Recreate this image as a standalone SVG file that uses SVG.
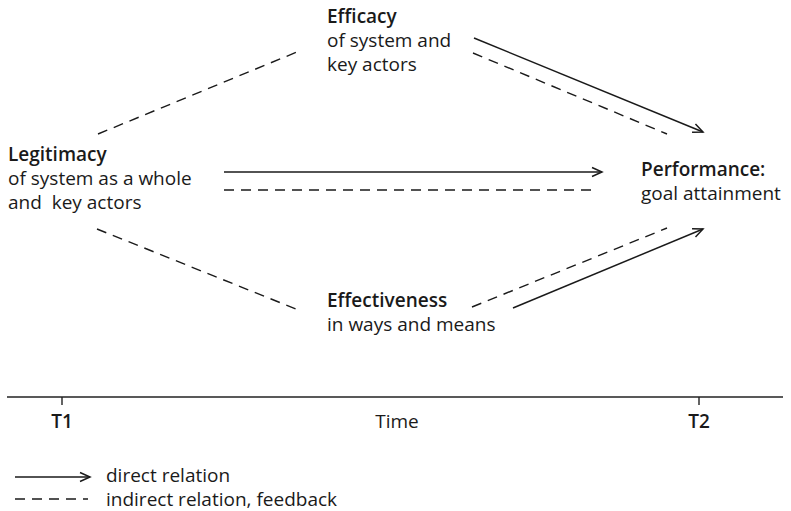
<svg xmlns="http://www.w3.org/2000/svg" width="791" height="511" viewBox="0 0 791 511">
<style>
text{font-family:"Open Sans","DejaVu Sans",sans-serif;font-size:19px;fill:#1a1a1a}
.b{font-weight:600}
.s{stroke:#1a1a1a;stroke-width:1.5;fill:none}
.d{stroke:#1a1a1a;stroke-width:1.4;fill:none;stroke-dasharray:10 7}
.ax{stroke:#222;stroke-width:1.4;fill:none}
</style>
<defs>
<marker id="arr" markerUnits="userSpaceOnUse" markerWidth="14" markerHeight="14" viewBox="-12 -7 14 14" refX="0" refY="0" orient="auto">
<path d="M-10,-4.5 L0,0 L-10,4.5" fill="none" stroke="#1a1a1a" stroke-width="1.5"/>
</marker>
</defs>
<rect width="791" height="511" fill="#fff"/>
<g id="connectors">
<line class="d" x1="98" y1="134" x2="297" y2="52"/>
<line class="d" x1="97" y1="229" x2="296" y2="309"/>
<line class="s" x1="474" y1="38" x2="703" y2="132" marker-end="url(#arr)"/>
<line class="d" x1="473" y1="53" x2="667" y2="134"/>
<line class="s" x1="224" y1="172" x2="602" y2="172" marker-end="url(#arr)"/>
<line class="d" x1="224" y1="190" x2="598" y2="190"/>
<line class="d" x1="472" y1="307" x2="667" y2="228"/>
<line class="s" x1="513" y1="308" x2="703" y2="229" marker-end="url(#arr)"/>
</g>
<g id="efficacy">
<text class="b" x="327" y="23">Efficacy</text>
<text x="327" y="47">of system and</text>
<text x="327" y="71">key actors</text>
</g>
<g id="legitimacy">
<text class="b" x="8" y="161">Legitimacy</text>
<text x="8" y="185">of system as a whole</text>
<text x="8" y="209" xml:space="preserve">and  key actors</text>
</g>
<g id="performance">
<text class="b" x="641" y="176">Performance:</text>
<text x="641" y="200">goal attainment</text>
</g>
<g id="effectiveness">
<text class="b" x="327" y="307">Effectiveness</text>
<text x="327" y="331">in ways and means</text>
</g>
<g id="timeline">
<line class="ax" x1="7" y1="397" x2="783" y2="397"/>
<line class="ax" x1="62" y1="397" x2="62" y2="405" stroke="#777"/>
<line class="ax" x1="699" y1="397" x2="699" y2="405"/>
<text class="b" x="62" y="428" text-anchor="middle">T1</text>
<text x="397" y="428" text-anchor="middle">Time</text>
<text class="b" x="699" y="428" text-anchor="middle">T2</text>
</g>
<g id="legend">
<line class="s" x1="15" y1="477" x2="90" y2="477" marker-end="url(#arr)"/>
<line class="d" x1="15" y1="499" x2="88" y2="499" stroke-dasharray="9 7"/>
<text x="106" y="482">direct relation</text>
<text x="106" y="506">indirect relation, feedback</text>
</g>
</svg>
